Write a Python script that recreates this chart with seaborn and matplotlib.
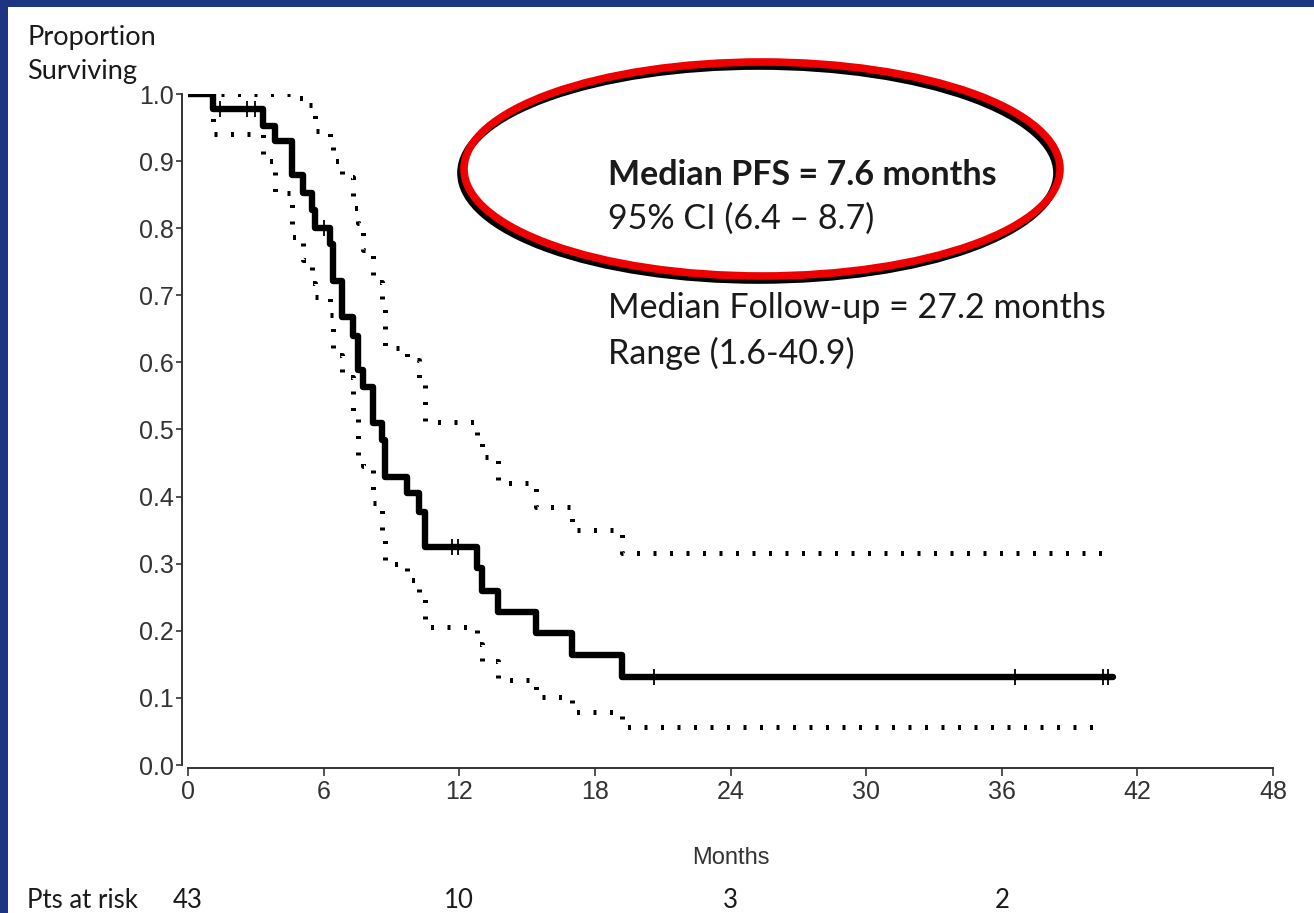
import numpy as np
import pandas as pd
import matplotlib
matplotlib.use("Agg")
import matplotlib.pyplot as plt
import matplotlib.transforms as mtransforms
from matplotlib.patches import Ellipse, Rectangle
from matplotlib import font_manager
import seaborn as sns

# ---------------- data ----------------
step_times = [0, 1.1, 3.3, 3.85, 4.6, 5.1, 5.5, 5.6, 6.3, 6.4, 6.8, 7.3, 7.5, 7.75,
              8.2, 8.6, 8.7, 9.7, 10.2, 10.5, 12.8, 13.0, 13.7, 15.4, 17.0, 19.2]
survival = [1.0, 0.977, 0.953, 0.930, 0.880, 0.853, 0.827, 0.800, 0.777, 0.722, 0.668,
            0.640, 0.588, 0.563, 0.510, 0.484, 0.429, 0.405, 0.377, 0.325, 0.293, 0.260,
            0.228, 0.196, 0.164, 0.131]
upper_ci = [1.0, 1.0, 1.0, 1.0, 0.994, 0.984, 0.970, 0.945, 0.927, 0.900, 0.876, 0.830,
            0.808, 0.768, 0.720, 0.680, 0.622, 0.604, 0.575, 0.511, 0.480, 0.459, 0.420,
            0.385, 0.350, 0.316]
lower_ci = [1.0, 0.940, 0.900, 0.852, 0.787, 0.753, 0.718, 0.697, 0.670, 0.611, 0.578,
            0.525, 0.460, 0.446, 0.390, 0.345, 0.300, 0.275, 0.250, 0.206, 0.180, 0.155,
            0.127, 0.101, 0.079, 0.057]
curve_end = 40.9
ci_end = 40.6

censor_times = [1.4, 2.6, 2.95, 6.0, 11.7, 11.95, 20.6, 36.6, 40.5, 40.7]
censor_surv = [0.977, 0.977, 0.977, 0.800, 0.325, 0.325, 0.131, 0.131, 0.131, 0.131]

x_ticks = [0, 6, 12, 18, 24, 30, 36, 42, 48]
y_ticks = [0.0, 0.1, 0.2, 0.3, 0.4, 0.5, 0.6, 0.7, 0.8, 0.9, 1.0]

risk_times = [0, 12, 24, 36]
risk_counts = [43, 10, 3, 2]

# ---------------- style ----------------
sns.set_style("ticks")
avail = {f.name for f in font_manager.fontManager.ttflist}
tick_family = ["Liberation Sans Narrow", "Liberation Sans", "DejaVu Sans"]
tick_family = [f for f in tick_family if f in avail] or ["DejaVu Sans"]
text_family = [f for f in ["Lato", "Open Sans", "DejaVu Sans"] if f in avail]
plt.rcParams["font.family"] = tick_family

W, H = 1314, 913
fig = plt.figure(figsize=(W / 100, H / 100), dpi=100)
fig.patch.set_facecolor("#1c3582")
fig.add_artist(Rectangle((8 / W, 0), 1 - 8 / W, 1 - 7 / H, transform=fig.transFigure,
                         facecolor="white", edgecolor="none", zorder=0))

ax = fig.add_axes([188 / W, 1 - 765 / H, (1273 - 188) / W, (765 - 94) / H])
ax.set_facecolor("none")

km = pd.DataFrame({"Months": step_times + [curve_end], "S": survival + [survival[-1]]})
up = pd.DataFrame({"Months": step_times + [ci_end], "S": upper_ci + [upper_ci[-1]]})
lo = pd.DataFrame({"Months": step_times + [ci_end], "S": lower_ci + [lower_ci[-1]]})

dot = (0, (0.6, 2.7))
sns.lineplot(data=up, x="Months", y="S", drawstyle="steps-post", color="black",
             lw=3.6, linestyle=dot, estimator=None, sort=False, ax=ax, zorder=3)
sns.lineplot(data=lo, x="Months", y="S", drawstyle="steps-post", color="black",
             lw=3.6, linestyle=dot, estimator=None, sort=False, ax=ax, zorder=3)
sns.lineplot(data=km, x="Months", y="S", drawstyle="steps-post", color="black",
             lw=4.6, estimator=None, sort=False, ax=ax, zorder=4)
sns.scatterplot(x=censor_times, y=censor_surv, marker="|", s=130, color="black",
                linewidth=1.3, ax=ax, zorder=5)

ax.set_xlim(0, 48)
ax.set_ylim(0, 1.0)
ax.set_xticks(x_ticks)
ax.set_xticklabels([str(t) for t in x_ticks])
ax.set_yticks(y_ticks)
ax.set_yticklabels([f"{v:.1f}" for v in y_ticks])
sns.despine(ax=ax)
ax.spines["left"].set_position(("outward", 4))
ax.spines["bottom"].set_position(("outward", 2))
for s in ("left", "bottom"):
    ax.spines[s].set_color("#333333")
    ax.spines[s].set_linewidth(1.4)
ax.tick_params(axis="x", direction="out", length=6, width=1.2, color="#333333",
               labelsize=18, labelcolor="#333333", pad=3)
ax.tick_params(axis="y", direction="out", length=4, width=1.2, color="#333333",
               labelsize=18, labelcolor="#333333", pad=2)
ax.set_xlabel("Months", fontsize=17, color="#333333", labelpad=31)
ax.set_ylabel("")
ax.grid(False)

# ---------------- text ----------------
tc = "#1a1a1a"
fig.text(27 / W, 1 - 45 / H, "Proportion", family=text_family, fontsize=19.5, color=tc,
         va="baseline", ha="left")
fig.text(27 / W, 1 - 79 / H, "Surviving", family=text_family, fontsize=19.5, color=tc,
         va="baseline", ha="left")

fs = 24.5
fig.text(608 / W, 1 - 185 / H, "Median PFS = 7.6 months", family=text_family,
         fontsize=fs, fontweight="bold", color=tc, va="baseline", ha="left")
fig.text(608 / W, 1 - 229 / H, "95% CI (6.4 \u2013 8.7)", family=text_family,
         fontsize=fs, color=tc, va="baseline", ha="left")
fig.text(608 / W, 1 - 318 / H, "Median Follow-up = 27.2 months", family=text_family,
         fontsize=fs, color=tc, va="baseline", ha="left")
fig.text(608 / W, 1 - 364 / H, "Range (1.6-40.9)", family=text_family,
         fontsize=fs, color=tc, va="baseline", ha="left")

# ellipse highlight with shadow
cx, cy, ew, eh = 762 / W, 1 - 169 / H, 596 / W, 214 / H
fig.add_artist(Ellipse((cx - 3 / W, cy - 4 / H), ew, eh, transform=fig.transFigure,
                       fill=False, edgecolor="black", lw=5.5, zorder=6))
fig.add_artist(Ellipse((cx, cy), ew, eh, transform=fig.transFigure,
                       fill=False, edgecolor="#ee0000", lw=5.5, zorder=7))

# patients at risk
fig.text(27 / W, 1 - 908 / H, "Pts at risk", family=text_family, fontsize=18.5,
         color=tc, va="baseline", ha="left")
trans = mtransforms.blended_transform_factory(ax.transData, fig.transFigure)
for t, n in zip(risk_times, risk_counts):
    ax.text(t, 1 - 908 / H, str(n), transform=trans, family=text_family, fontsize=18.5,
            color=tc, va="baseline", ha="center", clip_on=False)

fig.savefig("out.png", dpi=100, facecolor=fig.get_facecolor())
